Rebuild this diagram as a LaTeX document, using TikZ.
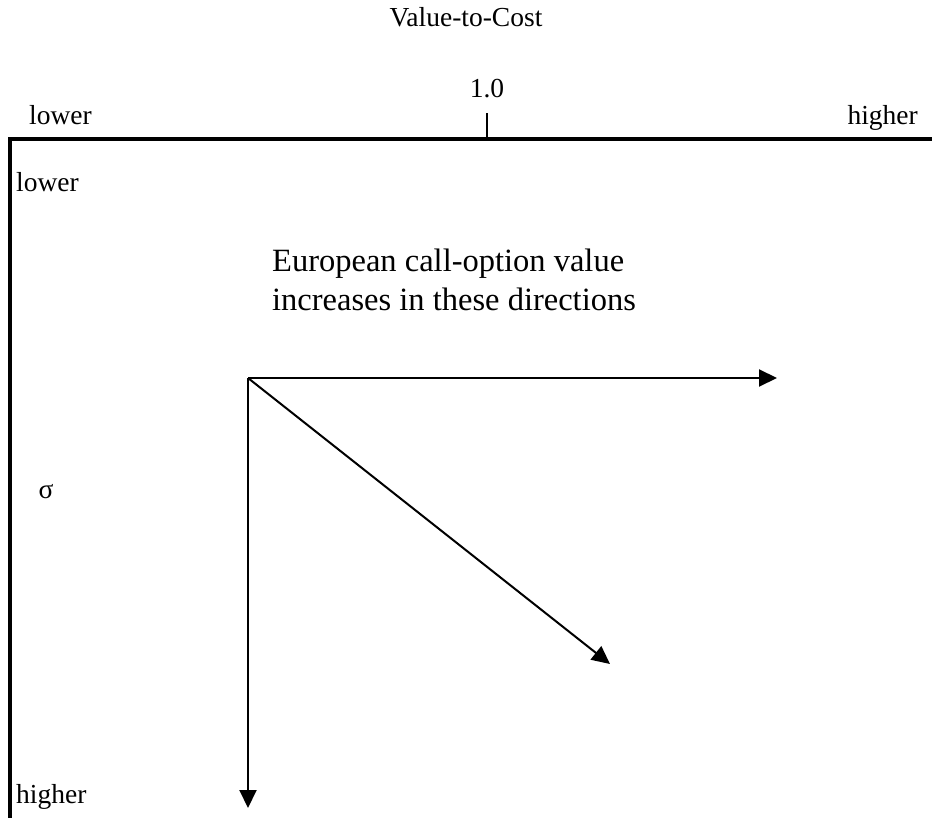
\documentclass[tikz,border=0pt]{standalone}
\usepackage{fontspec}
\setmainfont{Liberation Serif}
\usetikzlibrary{arrows.meta}
\begin{document}
\begin{tikzpicture}[x=1pt,y=-1pt,
  lbl/.style={inner sep=0pt,font=\fontsize{27.5}{32}\selectfont},
  big/.style={inner sep=0pt,font=\fontsize{32.5}{38}\selectfont},
  axis/.style={line width=3.5pt},
  arr/.style={line width=2pt,-{Triangle[length=18pt,width=17pt]}}]
\useasboundingbox (0,0) rectangle (932,818);
% axes
\coordinate (tl) at (10,139);
\coordinate (tr) at (932,139);
\coordinate (bl) at (10,818);
\draw[axis] (8,139) -- (tr);
\draw[axis] (10,139) -- (bl);
\coordinate (tick0) at (487,139);
\coordinate (tick1) at (487,113);
\draw[line width=2pt] (tick0) -- (tick1);
% labels
\node[lbl,anchor=base] (title) at (466,27) {Value-to-Cost};
\node[lbl,anchor=base] (one) at (487,98) {1.0};
\node[lbl,anchor=base west] (xlow) at (29,125) {lower};
\node[lbl,anchor=base east] (xhigh) at (918,125) {higher};
\node[lbl,anchor=base west] (ylow) at (16,192) {lower};
\node[lbl,anchor=base west] (yhigh) at (16,803) {higher};
\node[lbl] (sig) at (46,492) {σ};
\node[big,anchor=base west] (t1) at (272,272) {European call-option value};
\node[big,anchor=base west] (t2) at (272,311) {increases in these directions};
% arrows
\coordinate (o) at (248,378);
\coordinate (h) at (777,378);
\coordinate (v) at (248,808);
\coordinate (d) at (610,664);
\draw[arr] (o) -- (h);
\draw[arr] (o) -- (v);
\draw[arr] (o) -- (d);
\end{tikzpicture}
\end{document}
